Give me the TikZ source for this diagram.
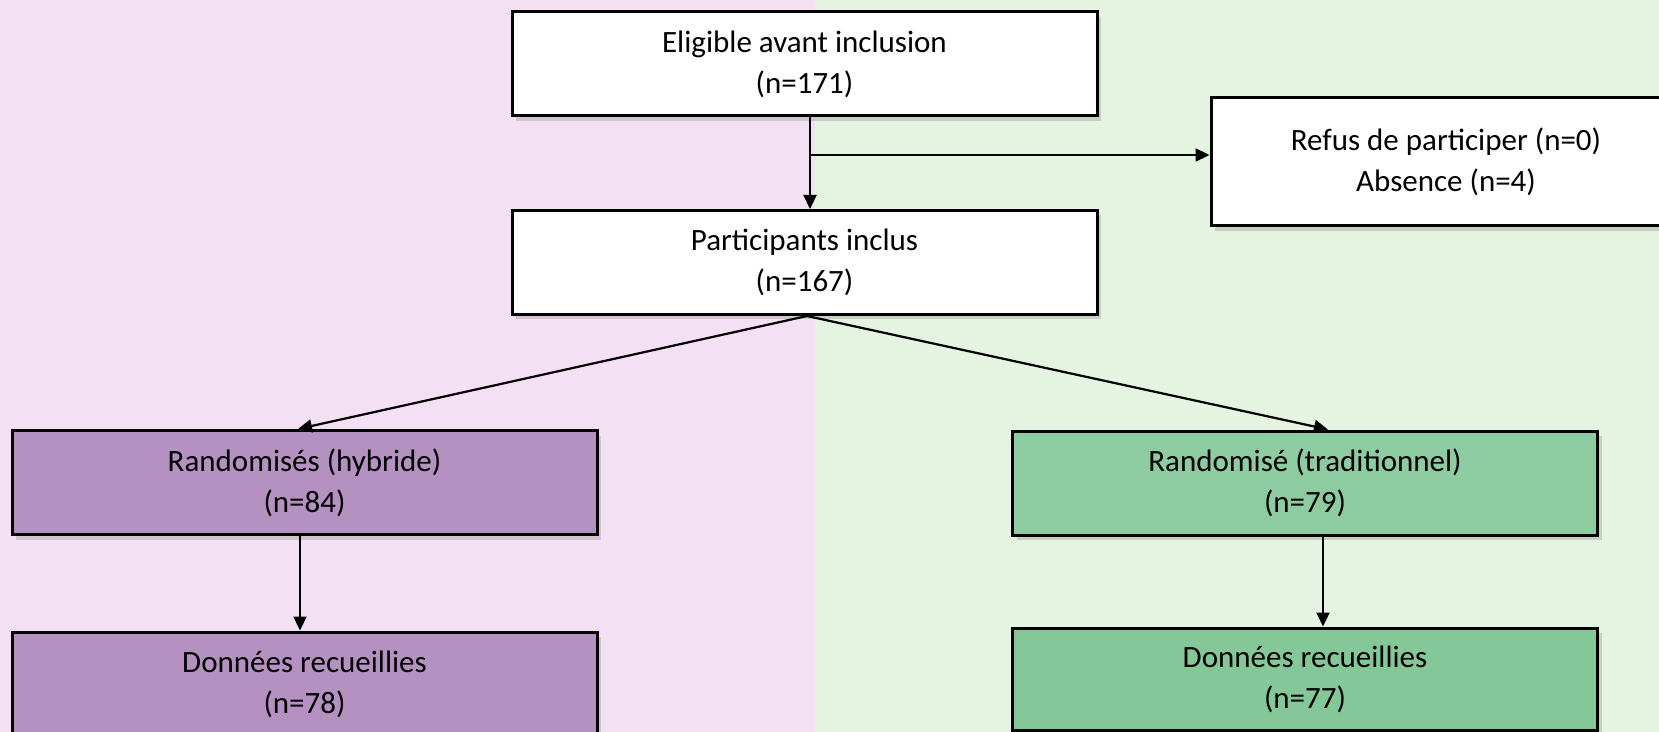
\documentclass[tikz,border=0pt]{standalone}
\usepackage{fontspec}
\setmainfont{Carlito}
\usepackage{tikz}
\usetikzlibrary{positioning,arrows.meta,shadows,calc}

\definecolor{bgpink}{HTML}{F4E0F3}
\definecolor{bggreen}{HTML}{E4F4E0}
\definecolor{hybfill}{HTML}{B591C2}
\definecolor{tradfill}{HTML}{8DCCA1}
\definecolor{donfill}{HTML}{84C899}

\begin{document}
\begin{tikzpicture}[
  x=0.5pt, y=-0.5pt,
  >={Triangle[length=7pt,width=6.5pt]},
  stage/.style={draw=black, line width=1.5pt, fill=white, minimum width=292.5pt,
                minimum height=52pt, align=center, inner sep=0pt,
                font=\fontsize{15.5}{20.5}\selectfont,
                drop shadow={shadow xshift=2pt, shadow yshift=-2.5pt, opacity=0.3}},
  flow/.style={->, line width=1.1pt, black}
]

% --- Background halves ---
\useasboundingbox (0,0) rectangle (1659,732);
\fill[bgpink] (0,0) rectangle (815,732);
\fill[bggreen] (815,0) rectangle (1659,732);

% --- Enrolment ---
\node[stage] (elig) at (804.5,64) {Eligible avant inclusion\\(n=171)};
\node[stage, minimum width=235pt, minimum height=64pt] (refus) at (1446,162)
  {Refus de participer (n=0)\\Absence (n=4)};
\node[stage] (inclus) at (804.5,262.5) {Participants inclus\\(n=167)};

% --- Allocation ---
\node[stage, fill=hybfill] (hyb) at (304.5,482.5) {Randomisés (hybride)\\(n=84)};
\node[stage, fill=tradfill] (trad) at (1305,483) {Randomisé (traditionnel)\\(n=79)};

% --- Analysis ---
\node[stage, fill=hybfill] (donL) at (304.5,684) {Données recueillies\\(n=78)};
\node[stage, fill=donfill, minimum height=51pt] (donR) at (1305,679) {Données recueillies\\(n=77)};

% --- Connectors ---
\draw[flow] ([xshift=2.75pt]elig.south) -- ([xshift=2.75pt]inclus.north);
\coordinate (branch) at (810,155);
\draw[flow] (branch) -- (branch -| refus.west);
\draw[flow] ([xshift=1.25pt]inclus.south) -- ([xshift=-3.25pt]hyb.north);
\draw[flow] ([xshift=1.25pt]inclus.south) -- ([xshift=11.5pt]trad.north);
\draw[flow] ([xshift=-2.25pt]hyb.south) -- ([xshift=-2.25pt]donL.north);
\draw[flow] ([xshift=9pt]trad.south) -- ([xshift=9pt]donR.north);

\end{tikzpicture}
\end{document}
